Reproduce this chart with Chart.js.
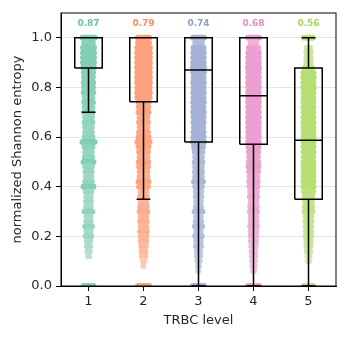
<!DOCTYPE html>
<html>
<head>
<meta charset="utf-8">
<script src="https://cdn.jsdelivr.net/npm/chart.js@4/dist/chart.umd.min.js"></script>
<style>
  html, body { margin: 0; padding: 0; background: #fff; }
  #wrap { width: 349px; height: 339px; }
</style>
</head>
<body>
<div id="wrap"><canvas id="chart"></canvas></div>
<script>
// TRBC levels and the value shown above each column (mean)
const categories = [1, 2, 3, 4, 5];
const means = [0.87, 0.79, 0.74, 0.68, 0.56];
const yTicks = [0, 0.2, 0.4, 0.6, 0.8, 1.0];

// box plot stats
const q1 = [0.878, 0.742, 0.58, 0.571, 0.35];
const medians = [1.0, 1.0, 0.87, 0.767, 0.587];
const q3 = [1.0, 1.0, 1.0, 1.0, 0.878];
const whiskerLo = [0.70, 0.35, 0.0, 0.0, 0.0];
const whiskerHi = [1.0, 1.0, 1.0, 1.0, 1.0];

// spread of the strip cloud at each entropy level (half width, category units), 0 = no points
const levels = [1.00, 0.98, 0.96, 0.94, 0.92, 0.90, 0.88, 0.86, 0.84, 0.82,
  0.80, 0.78, 0.76, 0.74, 0.72, 0.70, 0.68, 0.66, 0.64, 0.62,
  0.60, 0.58, 0.56, 0.54, 0.52, 0.50, 0.48, 0.46, 0.44, 0.42,
  0.40, 0.38, 0.36, 0.34, 0.32, 0.30, 0.28, 0.26, 0.24, 0.22,
  0.20, 0.18, 0.16, 0.14, 0.12, 0.10, 0.08, 0.06, 0.04, 0.02,
  0.00];
const spread1 = [0.11, 0.08, 0.10, 0.10, 0.10, 0.10, 0.095, 0.085, 0.08, 0.085,
  0.08, 0.085, 0.07, 0.08, 0.07, 0.075, 0.06, 0.07, 0.06, 0.06,
  0.07, 0.11, 0.07, 0.06, 0.065, 0.09, 0.06, 0.055, 0.05, 0.06,
  0.09, 0.05, 0.04, 0.045, 0.04, 0.07, 0.035, 0.04, 0.06, 0.035,
  0.05, 0.03, 0.025, 0.02, 0.01, 0, 0, 0, 0, 0,
  0.09];
const spread2 = [0.10, 0.10, 0.115, 0.115, 0.115, 0.115, 0.115, 0.115, 0.115, 0.115,
  0.11, 0.115, 0.11, 0.09, 0.085, 0.09, 0.07, 0.08, 0.07, 0.08,
  0.09, 0.11, 0.09, 0.08, 0.07, 0.085, 0.08, 0.07, 0.07, 0.09,
  0.08, 0.05, 0.06, 0.05, 0.06, 0.07, 0.05, 0.06, 0.05, 0.06,
  0.05, 0.05, 0.04, 0.035, 0.03, 0.01, 0.005, 0, 0, 0,
  0.10];
const spread3 = [0.10, 0.06, 0.09, 0.095, 0.095, 0.095, 0.10, 0.095, 0.09, 0.095,
  0.09, 0.095, 0.09, 0.095, 0.09, 0.095, 0.09, 0.09, 0.085, 0.09,
  0.09, 0.10, 0.08, 0.07, 0.06, 0.07, 0.06, 0.065, 0.06, 0.08,
  0.06, 0.05, 0.05, 0.04, 0.045, 0.07, 0.04, 0.05, 0.065, 0.04,
  0.06, 0.04, 0.045, 0.03, 0.03, 0.02, 0.01, 0.005, 0, 0,
  0.10];
const spread4 = [0.10, 0.05, 0.085, 0.095, 0.095, 0.095, 0.10, 0.095, 0.095, 0.095,
  0.095, 0.095, 0.095, 0.095, 0.095, 0.095, 0.095, 0.095, 0.095, 0.095,
  0.095, 0.095, 0.09, 0.085, 0.08, 0.085, 0.09, 0.08, 0.07, 0.075,
  0.07, 0.06, 0.065, 0.05, 0.06, 0.065, 0.05, 0.055, 0.06, 0.05,
  0.05, 0.045, 0.04, 0.035, 0.03, 0.025, 0.02, 0.01, 0, 0,
  0.10];
const spread5 = [0.08, 0, 0.03, 0.04, 0.04, 0.035, 0.06, 0.09, 0.095, 0.09,
  0.095, 0.09, 0.085, 0.09, 0.09, 0.085, 0.09, 0.09, 0.09, 0.09,
  0.09, 0.09, 0.09, 0.09, 0.085, 0.09, 0.09, 0.09, 0.09, 0.09,
  0.09, 0.08, 0.07, 0.06, 0.065, 0.07, 0.05, 0.055, 0.05, 0.045,
  0.05, 0.04, 0.035, 0.03, 0.02, 0.01, 0, 0, 0, 0,
  0.08];

const spreads = [spread1, spread2, spread3, spread4, spread5];
const colors = [[102, 194, 165], [252, 141, 98], [141, 160, 203], [231, 138, 195], [166, 216, 84]];
const FONT = 'DejaVu Sans';

// colour blended on white so overlapping rows don't darken
function tint(rgb, a) {
  return 'rgb(' + rgb.map(v => Math.round(255 - (255 - v) * a)).join(',') + ')';
}

function cloudData(ci) {
  const c = categories[ci];
  const out = [];
  levels.forEach((lv, i) => {
    const w = spreads[ci][i];
    if (!w) return;
    out.push({x: c - w, y: lv}, {x: c + w, y: lv}, {x: c, y: null});
  });
  return out;
}

function boxData() {
  const out = [];
  const hw = 0.25, cw = 0.125;
  const gap = c => out.push({x: c, y: null});
  categories.forEach((c, i) => {
    out.push({x: c - hw, y: q1[i]}, {x: c + hw, y: q1[i]}, {x: c + hw, y: q3[i]},
      {x: c - hw, y: q3[i]}, {x: c - hw, y: q1[i]}); gap(c);
    out.push({x: c - hw, y: medians[i]}, {x: c + hw, y: medians[i]}); gap(c);
    out.push({x: c, y: whiskerLo[i]}, {x: c, y: q1[i]}); gap(c);
    out.push({x: c - cw, y: whiskerLo[i]}, {x: c + cw, y: whiskerLo[i]}); gap(c);
    out.push({x: c, y: q3[i]}, {x: c, y: whiskerHi[i]}); gap(c);
    out.push({x: c - cw, y: whiskerHi[i]}, {x: c + cw, y: whiskerHi[i]}); gap(c);
  });
  return out;
}

const datasets = categories.map((c, i) => ({
  label: 'TRBC ' + c,
  data: cloudData(i),
  borderColor: tint(colors[i], 0.8),
  borderWidth: 6,
  borderCapStyle: 'round',
  pointRadius: 0,
  spanGaps: false,
  fill: false,
  order: 1,
  segment: {
    borderColor: ctx => {
      const w = (ctx.p1.parsed.x - ctx.p0.parsed.x) / 2;
      return tint(colors[i], Math.min(0.82, 0.45 + 4 * w));
    }
  }
}));

datasets.push({
  label: 'box',
  data: boxData(),
  borderColor: '#000',
  borderWidth: 1.5,
  pointRadius: 0,
  spanGaps: false,
  fill: false,
  order: 0
});

const extras = {
  id: 'extras',
  afterDatasetsDraw(chart) {
    const {ctx, chartArea: a, scales} = chart;
    ctx.save();
    ctx.strokeStyle = '#000';
    ctx.lineWidth = 1;
    ctx.strokeRect(a.left, a.top, a.right - a.left, a.bottom - a.top);
    ctx.font = 'bold 9px "' + FONT + '"';
    ctx.textAlign = 'center';
    ctx.textBaseline = 'middle';
    means.forEach((m, i) => {
      ctx.fillStyle = 'rgb(' + colors[i].join(',') + ')';
      ctx.fillText(m.toFixed(2), scales.x.getPixelForValue(categories[i]), scales.y.getPixelForValue(1.056));
    });
    ctx.restore();
  }
};

new Chart(document.getElementById('chart'), {
  type: 'line',
  data: {datasets},
  options: {
    responsive: true,
    maintainAspectRatio: false,
    animation: false,
    layout: {padding: {left: 0, right: 13, top: 13, bottom: 0}},
    plugins: {legend: {display: false}, tooltip: {enabled: false}},
    scales: {
      x: {
        type: 'linear',
        min: 0.5,
        max: 5.5,
        afterBuildTicks: s => { s.ticks = categories.map(v => ({value: v})); },
        afterFit: s => { s.height = 53; },
        grid: {drawOnChartArea: false, tickLength: 5, tickColor: '#000'},
        border: {color: '#000', width: 1},
        ticks: {color: '#262626', padding: 3, font: {family: FONT, size: 13}, callback: v => String(v)},
        title: {display: true, text: 'TRBC level', color: '#262626', font: {family: FONT, size: 13}, padding: {top: 0, bottom: 11}}
      },
      y: {
        type: 'linear',
        min: 0,
        max: 1.1,
        afterBuildTicks: s => { s.ticks = yTicks.map(v => ({value: v})); },
        afterFit: s => { s.width = 61; },
        grid: {color: 'rgba(0,0,0,0.1)', lineWidth: 1, tickLength: 5, tickColor: '#000'},
        border: {color: '#000', width: 1},
        ticks: {color: '#262626', padding: 4, font: {family: FONT, size: 13}, callback: v => v.toFixed(1)},
        title: {display: true, text: 'normalized Shannon entropy', color: '#262626', font: {family: FONT, size: 13}, padding: {top: 10, bottom: 0}}
      }
    }
  },
  plugins: [extras]
});
</script>
</body>
</html>
